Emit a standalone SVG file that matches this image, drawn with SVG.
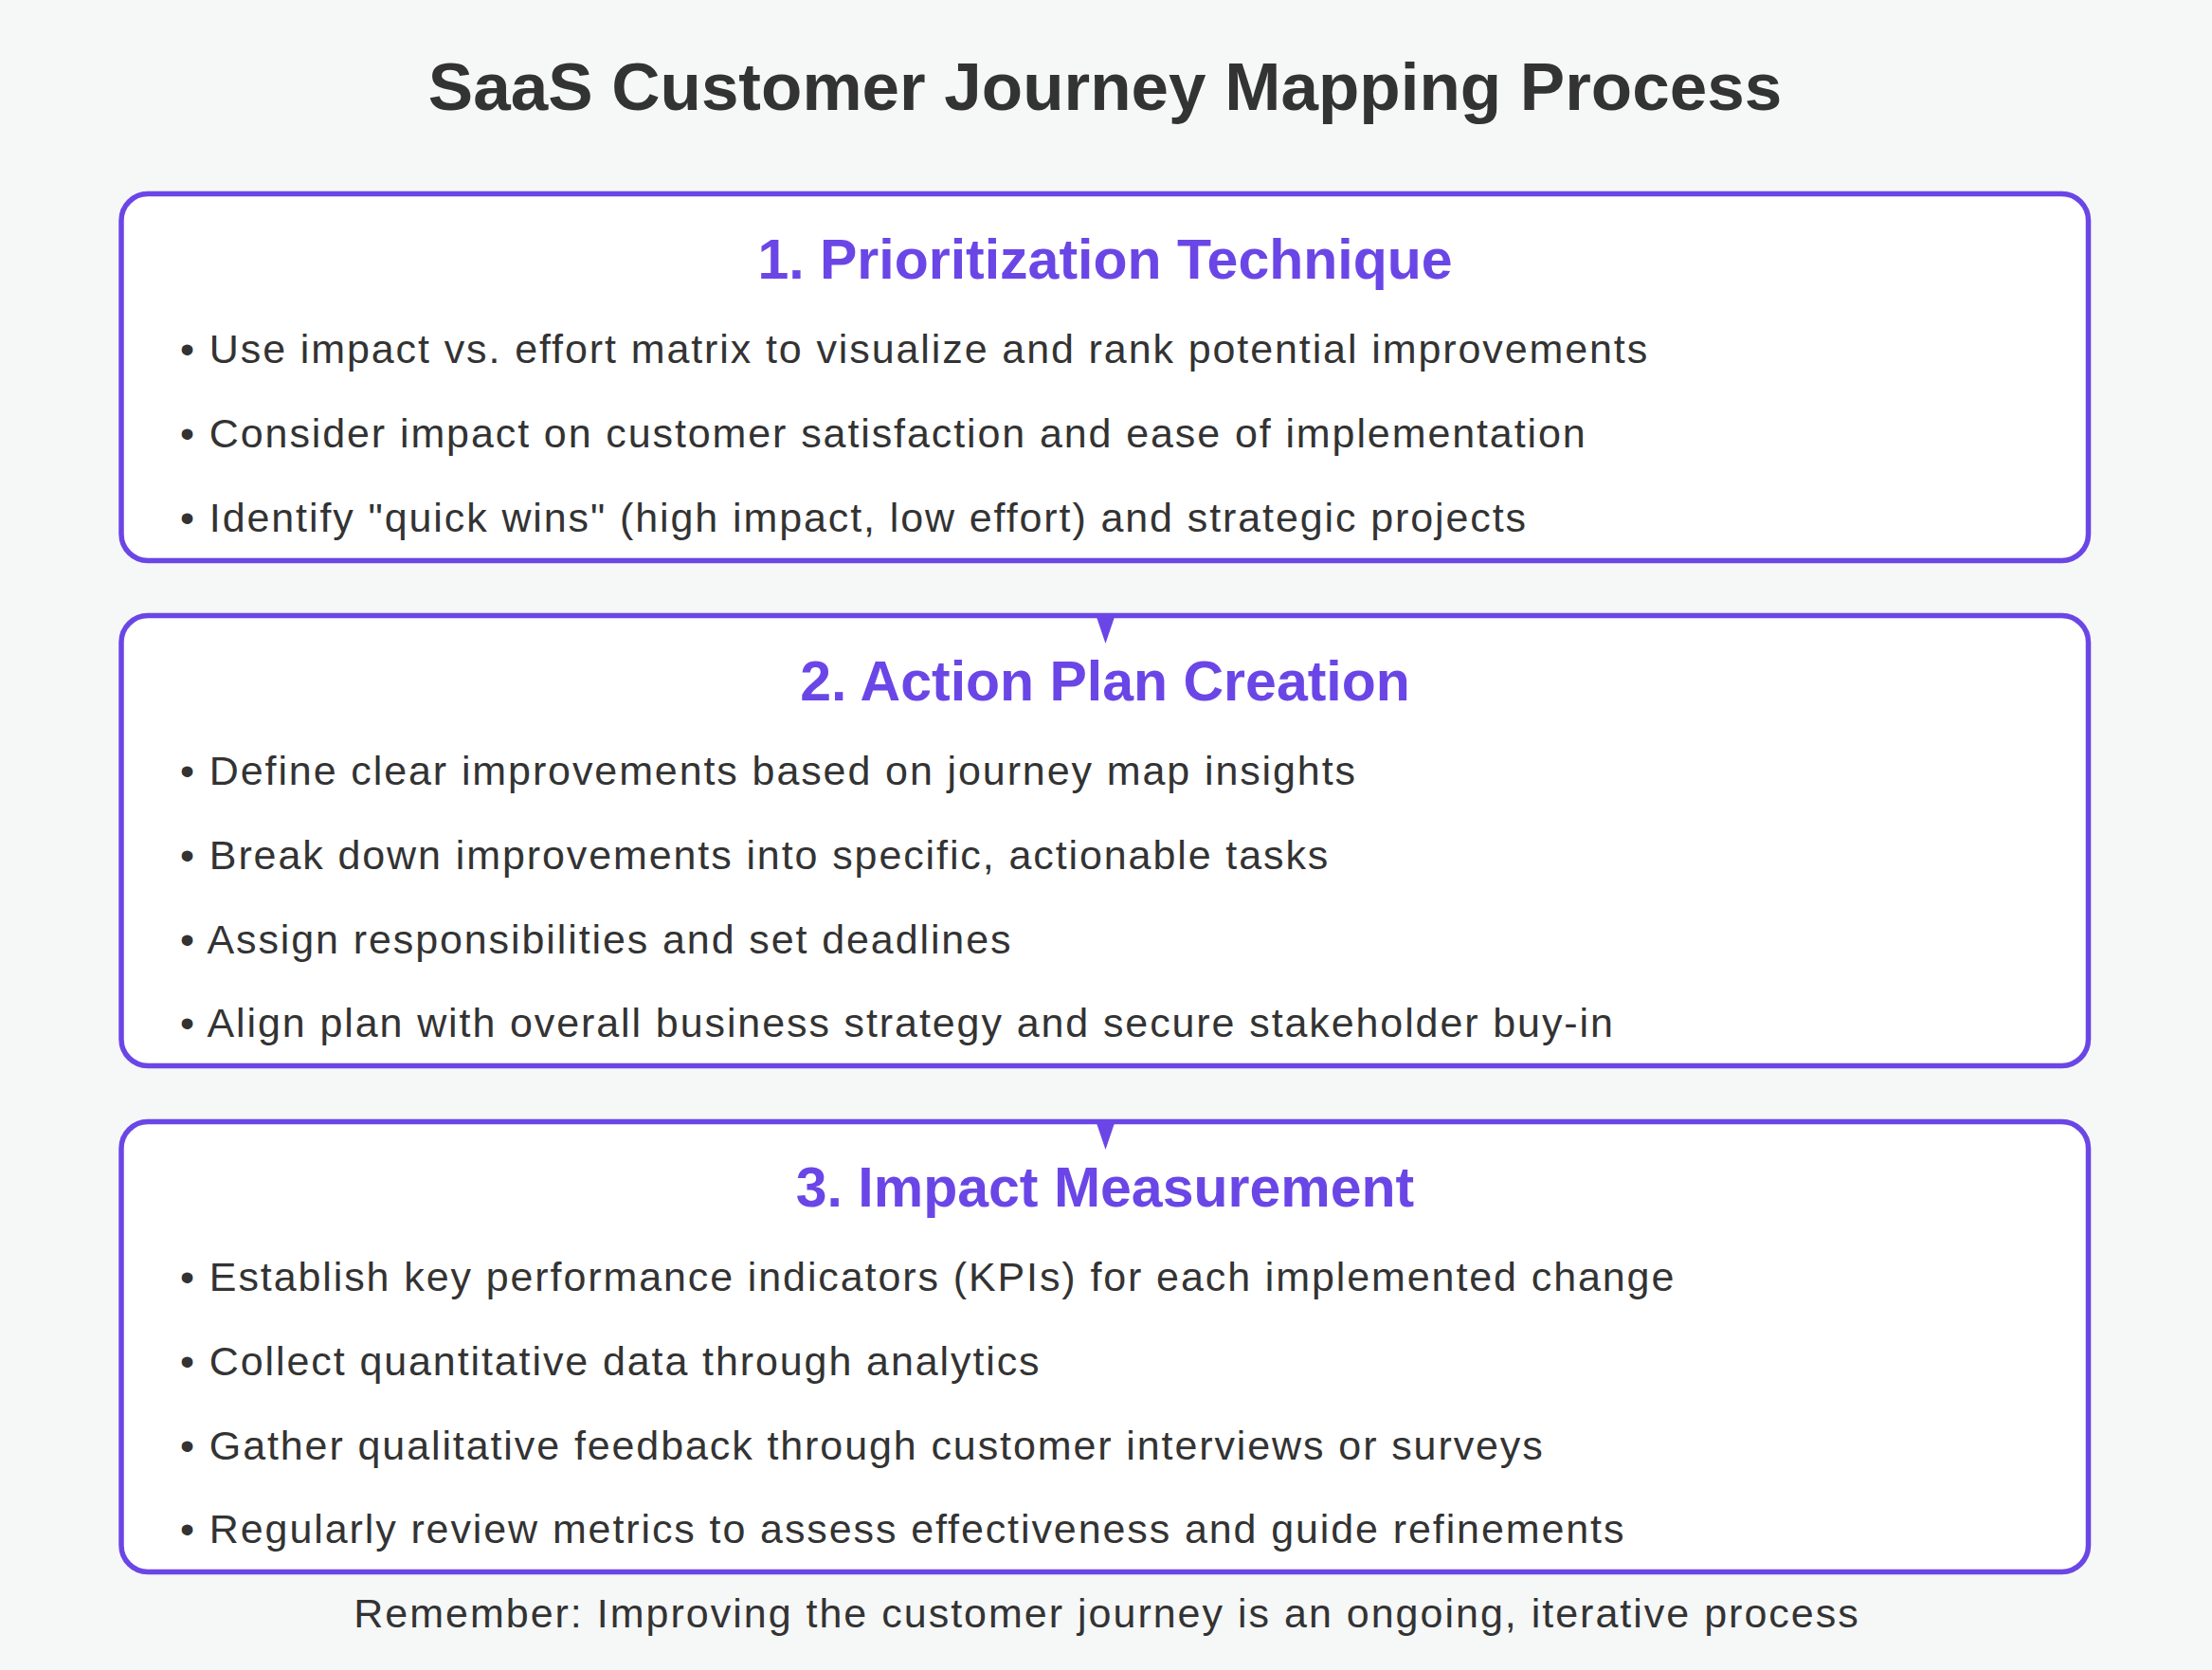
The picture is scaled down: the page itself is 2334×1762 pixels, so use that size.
<svg xmlns="http://www.w3.org/2000/svg" width="2334" height="1762" viewBox="0 0 2334 1762">
<style>
.bg{fill:#f6f7f7}
.box{fill:#ffffff;stroke:#6b46e6;stroke-width:5.5}
.title{font-family:"Liberation Sans",Arial,Helvetica,sans-serif;font-weight:bold;font-size:71px;fill:#333333;text-anchor:middle}
.head{font-family:"Liberation Sans",Arial,Helvetica,sans-serif;font-weight:bold;font-size:59px;fill:#6b46e6;text-anchor:middle}
.item{font-family:"Liberation Sans",Arial,Helvetica,sans-serif;font-size:43px;letter-spacing:1.9px;fill:#333333}
.foot{font-family:"Liberation Sans",Arial,Helvetica,sans-serif;font-size:43px;letter-spacing:2px;fill:#333333;text-anchor:middle}
.arrow{fill:#6b46e6}
</style>
<rect class="bg" x="0" y="0" width="2334" height="1762"/>
<text class="title" x="1166" y="116">SaaS Customer Journey Mapping Process</text>
<g id="step1">
<rect class="box" x="128" y="204.5" width="2075.5" height="387" rx="28"/>
<text class="head" x="1166" y="294">1. Prioritization Technique</text>
<text class="item" x="190" y="383">• Use impact vs. effort matrix to visualize and rank potential improvements</text>
<text class="item" x="190" y="472">• Consider impact on customer satisfaction and ease of implementation</text>
<text class="item" x="190" y="561">• Identify "quick wins" (high impact, low effort) and strategic projects</text>
</g>
<g id="step2">
<rect class="box" x="128" y="649.5" width="2075.5" height="475" rx="28"/>
<text class="head" x="1166" y="739">2. Action Plan Creation</text>
<text class="item" x="190" y="828">• Define clear improvements based on journey map insights</text>
<text class="item" x="190" y="917">• Break down improvements into specific, actionable tasks</text>
<text class="item" x="190" y="1006">• Assign responsibilities and set deadlines</text>
<text class="item" x="190" y="1094">• Align plan with overall business strategy and secure stakeholder buy-in</text>
</g>
<g id="step3">
<rect class="box" x="128" y="1183.5" width="2075.5" height="475" rx="28"/>
<text class="head" x="1166" y="1273">3. Impact Measurement</text>
<text class="item" x="190" y="1362">• Establish key performance indicators (KPIs) for each implemented change</text>
<text class="item" x="190" y="1451">• Collect quantitative data through analytics</text>
<text class="item" x="190" y="1540">• Gather qualitative feedback through customer interviews or surveys</text>
<text class="item" x="190" y="1628">• Regularly review metrics to assess effectiveness and guide refinements</text>
</g>
<g id="connectors">
<polygon class="arrow" points="1157,651 1176,651 1166.5,679"/>
<polygon class="arrow" points="1157,1185 1176,1185 1166.5,1213"/>
</g>
<text class="foot" x="1168" y="1717">Remember: Improving the customer journey is an ongoing, iterative process</text>
</svg>
